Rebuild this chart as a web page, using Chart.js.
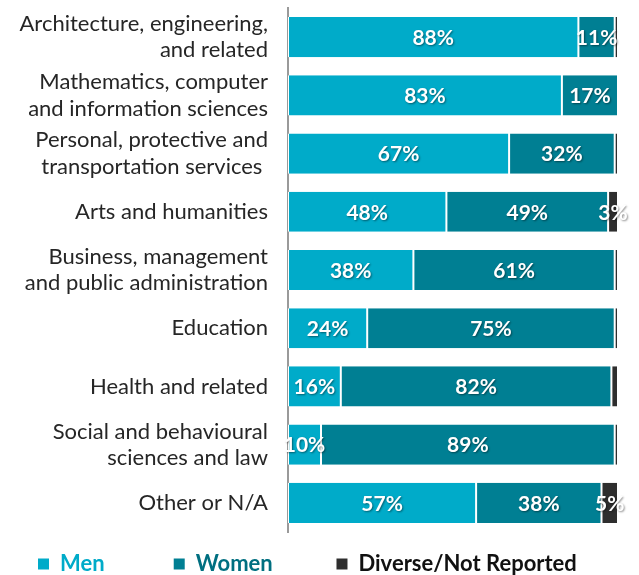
<!DOCTYPE html>
<html>
<head>
<meta charset="utf-8">
<script src="https://cdn.jsdelivr.net/npm/chart.js@4.4.0/dist/chart.umd.min.js"></script>
<style>
  html, body { margin: 0; padding: 0; background: #fff; }
  #wrap { width: 639px; height: 575px; }
</style>
</head>
<body>
<div id="wrap"><canvas id="chart" width="639" height="575"></canvas></div>
<script>
// categories (y axis, top to bottom)
const categories = [
  ['Architecture, engineering,', 'and related'],
  ['Mathematics, computer', 'and information sciences'],
  ['Personal, protective and', 'transportation services '],
  'Arts and humanities',
  ['Business, management', 'and public administration'],
  'Education',
  'Health and related',
  ['Social and behavioural', 'sciences and law'],
  'Other or N/A'
];

// percentages
const men = [88, 83, 67, 48, 38, 24, 16, 10, 57];
const women = [11, 17, 32, 49, 61, 75, 82, 89, 38];
const diverse = [1, 0, 1, 3, 1, 1, 2, 1, 5];

const seriesNames = ['Men', 'Women', 'Diverse/Not Reported'];
const seriesColors = ['#00abc9', '#007f93', '#2e2e2e'];
const legendTextColors = ['#00abc9', '#006f80', '#111111'];

const FONT = 'Lato, "Open Sans", sans-serif';
// extra room after each legend entry (spaces)
const legendGaps = ['         ', '        ', ''];

// draws the white % labels in the middle of each segment
const barLabels = {
  id: 'barLabels',
  afterDatasetsDraw(chart) {
    const ctx = chart.ctx;
    ctx.save();
    ctx.font = 'bold 21px ' + FONT;
    ctx.textAlign = 'center';
    ctx.textBaseline = 'middle';
    ctx.fillStyle = '#ffffff';
    ctx.shadowColor = 'rgba(0,0,0,0.45)';
    ctx.shadowBlur = 2;
    ctx.shadowOffsetX = 1;
    ctx.shadowOffsetY = 1;
    chart.data.datasets.forEach((ds, di) => {
      const meta = chart.getDatasetMeta(di);
      meta.data.forEach((bar, i) => {
        const v = ds.data[i];
        if (!v) return;
        if (di === 2 && v < 3) return;
        const cx = (bar.x + bar.base) / 2;
        ctx.fillText(v + '%', cx, bar.y + 1);
      });
    });
    ctx.restore();
  }
};

const chart = new Chart(document.getElementById('chart'), {
  type: 'bar',
  data: {
    labels: categories,
    datasets: [
      { label: seriesNames[0], data: men, backgroundColor: seriesColors[0] },
      { label: seriesNames[1], data: women, backgroundColor: seriesColors[1] },
      { label: seriesNames[2], data: diverse, backgroundColor: seriesColors[2] }
    ]
  },
  options: {
    indexAxis: 'y',
    responsive: false,
    animation: false,
    devicePixelRatio: 1,
    categoryPercentage: 0.69,
    barPercentage: 1,
    datasets: {
      bar: {
        borderColor: '#ffffff',
        borderWidth: { left: 1, right: 1, top: 0, bottom: 0 },
        borderSkipped: false
      }
    },
    layout: { padding: { top: 8, right: 21, bottom: 0, left: 17 } },
    scales: {
      x: {
        stacked: true,
        min: 0,
        max: 100,
        display: false
      },
      y: {
        stacked: true,
        grid: { display: false, drawTicks: false },
        border: { display: true, color: '#9a9a9a', width: 2 },
        ticks: {
          autoSkip: false,
          color: '#262626',
          padding: 20,
          font: { family: FONT, size: 22, lineHeight: 1.2 }
        },
        afterFit(scale) {
          scale.width = 271;
          scale.paddingTop = 0;
          scale.paddingBottom = 0;
        }
      }
    },
    plugins: {
      legend: {
        position: 'bottom',
        align: 'start',
        maxHeight: 43,
        labels: {
          boxWidth: 11,
          boxHeight: 11,
          padding: 21,
          font: { family: FONT, size: 22, weight: 'bold' },
          generateLabels(chart) {
            return chart.data.datasets.map((ds, i) => ({
              text: ds.label + legendGaps[i],
              fillStyle: seriesColors[i],
              strokeStyle: seriesColors[i],
              lineWidth: 0,
              fontColor: legendTextColors[i],
              datasetIndex: i,
              hidden: false
            }));
          }
        }
      },
      tooltip: { enabled: false }
    }
  },
  plugins: [barLabels]
});
</script>
</body>
</html>
